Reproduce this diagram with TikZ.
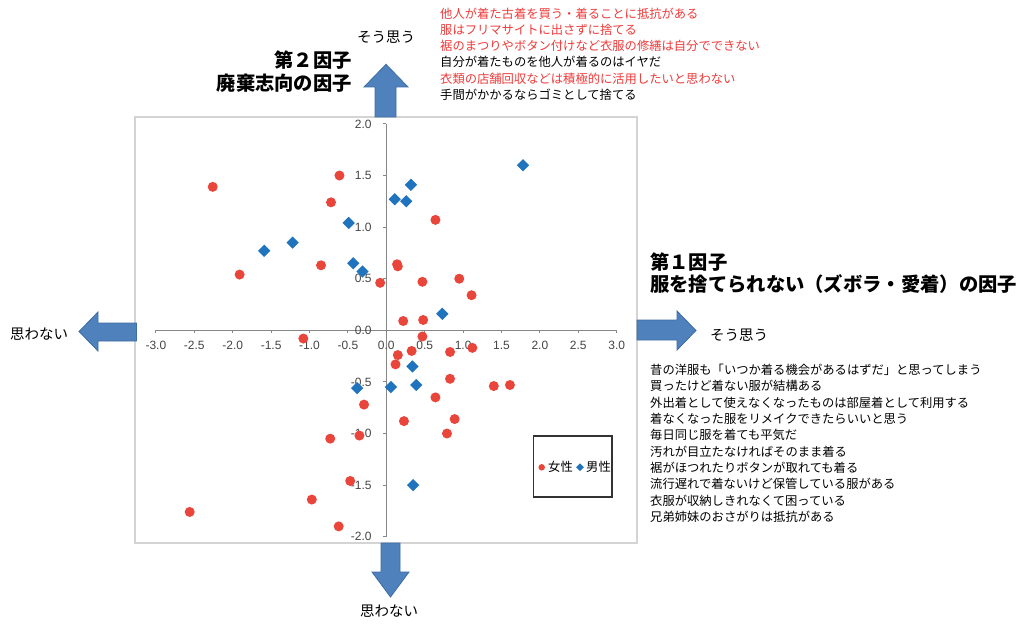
\documentclass[tikz,border=0pt]{standalone}
\usepackage{fontspec}
\setmainfont{Liberation Sans}
\newfontfamily\jp{Noto Sans CJK JP}
\usetikzlibrary{shapes.geometric}

\definecolor{womanred}{HTML}{E9453B}
\definecolor{manblue}{HTML}{1F74BD}
\definecolor{arrowfill}{HTML}{4F81BD}
\definecolor{arrowline}{HTML}{3F6DA6}
\definecolor{axisgray}{HTML}{878787}
\definecolor{framegray}{HTML}{D4D4D4}
\definecolor{labelgray}{HTML}{454545}
\definecolor{itemred}{HTML}{F03A3A}

\tikzset{
  woman/.style={circle,fill=womanred,inner sep=0pt,minimum size=10pt},
  man/.style={diamond,fill=manblue,inner sep=0pt,minimum size=12.5pt},
  blockarrow/.style={fill=arrowfill,draw=arrowline,line width=0.8pt,line join=miter},
  ticklabel/.style={font=\fontsize{12}{14}\selectfont,text=labelgray,inner sep=0pt},
  header/.style={font=\jp\bfseries\fontsize{19.3}{22}\selectfont,inner sep=0pt},
  item/.style={font=\jp\fontsize{12.3}{14}\selectfont,inner sep=0pt,anchor=west},
  direction/.style={font=\jp\fontsize{14.5}{16}\selectfont,inner sep=0pt}
}

\begin{document}
\begin{tikzpicture}[x=1pt,y=-1pt]
        \useasboundingbox[fill=white] (0,0) rectangle (1024,623);
        % plot area
        \draw [framegray,line width=1.2pt] (135,117) rectangle (637,543);
        \begin{scope}[shift={(386.3pt,-330.3pt)},x=76.8pt,y=103.2pt]
          \coordinate (xmin) at (-3,0);
          \coordinate (xmax) at (3,0);
          \coordinate (ymin) at (0,-2);
          \coordinate (ymax) at (0,2);
          \draw [axisgray,line width=1.3pt] (xmin) -- (xmax);
          \draw [axisgray,line width=1.3pt] (ymin) -- (ymax);
          \foreach \t in {-3.0,-2.5,-2.0,-1.5,-1.0,-0.5,0.0,0.5,1.0,1.5,2.0,2.5,3.0} {
            \draw [axisgray,line width=1pt] (\t,0) -- ++(0pt,-3pt);
            \node [ticklabel] (xl\t) at ([yshift=-14.7pt]\t,0) {\t};
          }
          \foreach \t in {-2.0,-1.5,-1.0,-0.5,0.0,0.5,1.0,1.5,2.0} {
            \draw [axisgray,line width=1pt] (0,\t) -- ++(-3pt,0pt);
            \node [ticklabel,anchor=east] (yl\t) at ([xshift=-14.5pt]0,\t) {\t};
          }
          % women
          \foreach \px/\py [count=\i] in {-2.26/1.39,-0.61/1.50,-0.72/1.24,0.64/1.07,-1.91/0.54,
              -0.85/0.63,0.14/0.64,0.15/0.62,-0.08/0.46,0.47/0.47,0.95/0.50,1.11/0.34,
              0.22/0.09,0.48/0.10,-1.08/-0.08,0.47/-0.06,1.12/-0.17,0.83/-0.21,0.33/-0.20,
              0.15/-0.24,0.12/-0.33,0.83/-0.47,1.40/-0.54,1.61/-0.53,0.64/-0.65,-0.29/-0.72,
              0.23/-0.88,0.89/-0.86,0.79/-1.00,-0.73/-1.05,-0.35/-1.02,-0.47/-1.46,
              -0.97/-1.64,-2.56/-1.76,-0.62/-1.90}
            \node [woman] (w\i) at (\px,\py) {};
          % men
          \foreach \px/\py [count=\i] in {1.78/1.60,0.32/1.41,0.11/1.27,0.26/1.25,-0.49/1.04,
              -1.22/0.85,-1.59/0.77,-0.43/0.65,-0.31/0.57,0.73/0.16,0.34/-0.35,-0.38/-0.56,
              0.06/-0.55,0.39/-0.53,0.35/-1.50}
            \node [man] (m\i) at (\px,\py) {};
        \end{scope}
        % legend
        \node [draw=black!80,line width=1.2pt,minimum width=78.5pt,minimum height=61pt,inner sep=0pt] (legend) at (572.7,466.5) {};
        \node [woman,minimum size=6.5pt] (lw) at (541.7,467.3) {};
        \node [item] (lwt) at (548,467) {女性};
        \node [man,minimum size=8pt] (lm) at (580,467.3) {};
        \node [item] (lmt) at (586,467) {男性};
        % arrows
        \draw [blockarrow] (375,117) -- (375,87) -- (364,87) -- (386,64.3) -- (408,87) -- (396,87) -- (396,117) -- cycle;
        \draw [blockarrow] (637,320) -- (677,320) -- (677,311) -- (696,330.5) -- (677,350) -- (677,340) -- (637,340) -- cycle;
        \draw [blockarrow] (136.5,323) -- (98,323) -- (98,312) -- (79,331.5) -- (98,351) -- (98,341) -- (136.5,341) -- cycle;
        \draw [blockarrow] (381,543) -- (381,572) -- (372,572) -- (390.5,597) -- (409,572) -- (400,572) -- (400,543) -- cycle;
        % direction labels
        \node [direction] (upyes) at (386,37) {そう思う};
        \node [direction] (rightyes) at (739,335) {そう思う};
        \node [direction] (leftno) at (39,334) {思わない};
        \node [direction] (downno) at (389,611) {思わない};
        % factor 2
        \node [header,anchor=east] (f2num) at (352,60) {第２因子};
        \node [header,anchor=east] (f2name) at (352,83) {廃棄志向の因子};
        \node [item,text=itemred] (f2a) at (440,13.6) {他人が着た古着を買う・着ることに抵抗がある};
        \node [item,text=itemred] (f2b) at (440,29.8) {服はフリマサイトに出さずに捨てる};
        \node [item,text=itemred] (f2c) at (440,46) {裾のまつりやボタン付けなど衣服の修繕は自分でできない};
        \node [item] (f2d) at (440,62.2) {自分が着たものを他人が着るのはイヤだ};
        \node [item,text=itemred] (f2e) at (440,78.4) {衣類の店舗回収などは積極的に活用したいと思わない};
        \node [item] (f2f) at (440,94.6) {手間がかかるならゴミとして捨てる};
        % factor 1
        \node [header,anchor=west] (f1num) at (650,262) {第１因子};
        \node [header,anchor=west] (f1name) at (650,284) {服を捨てられない（ズボラ・愛着）の因子};
        \node [item] (f1a) at (650,370) {昔の洋服も「いつか着る機会があるはずだ」と思ってしまう};
        \node [item] (f1b) at (650,386.3) {買ったけど着ない服が結構ある};
        \node [item] (f1c) at (650,402.6) {外出着として使えなくなったものは部屋着として利用する};
        \node [item] (f1d) at (650,418.9) {着なくなった服をリメイクできたらいいと思う};
        \node [item] (f1e) at (650,435.2) {毎日同じ服を着ても平気だ};
        \node [item] (f1f) at (650,451.5) {汚れが目立たなければそのまま着る};
        \node [item] (f1g) at (650,467.8) {裾がほつれたりボタンが取れても着る};
        \node [item] (f1h) at (650,484.1) {流行遅れで着ないけど保管している服がある};
        \node [item] (f1i) at (650,500.4) {衣服が収納しきれなくて困っている};
        \node [item] (f1j) at (650,516.7) {兄弟姉妹のおさがりは抵抗がある};
      \end{tikzpicture}
\end{document}
